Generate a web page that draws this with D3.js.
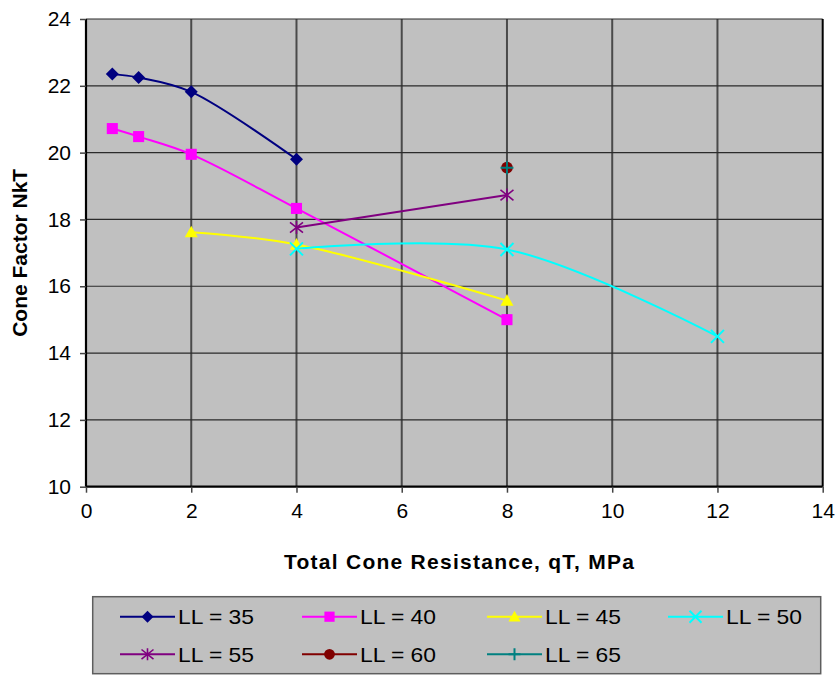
<!DOCTYPE html>
<html>
<head>
<meta charset="utf-8">
<script src="https://cdn.jsdelivr.net/npm/d3@7"></script>
<style>
  html, body { margin: 0; padding: 0; background: #ffffff; }
  svg { display: block; font-family: "Liberation Sans", Arial, sans-serif; }
</style>
</head>
<body>
<svg id="chart" width="836" height="675"></svg>
<script>
// Cone factor NkT versus total cone resistance qT, one series per liquid limit
const seriesNames = ["LL = 35", "LL = 40", "LL = 45", "LL = 50", "LL = 55", "LL = 60", "LL = 65"];
const ll35 = [[0.5, 22.35], [1, 22.25], [2, 21.82], [4, 19.8]];
const ll40 = [[0.5, 20.72], [1, 20.48], [2, 19.95], [4, 18.33], [8, 15.0]];
const ll45 = [[2, 17.62], [4, 17.25], [8, 15.57]];
const ll50 = [[4, 17.12], [8, 17.1], [12, 14.5]];
const ll55 = [[4, 17.76], [8, 18.73]];
const ll60 = [[8, 19.55]];
const ll65 = [[8, 19.55]];
const seriesValues = [ll35, ll40, ll45, ll50, ll55, ll60, ll65];
const seriesColors = ["#000080", "#ff00ff", "#ffff00", "#00ffff", "#800080", "#800000", "#008080"];
const seriesMarkers = ["diamond", "square", "triangle", "cross", "star", "circle", "plus"];

const xTicks = [0, 2, 4, 6, 8, 10, 12, 14];
const yTicks = [10, 12, 14, 16, 18, 20, 22, 24];
const xTitle = "Total Cone Resistance, qT, MPa";
const yTitle = "Cone Factor NkT";

const svg = d3.select("#chart");
const plot = { left: 86, right: 822.7, top: 19, bottom: 486.7 };

const x = d3.scaleLinear().domain([0, 14]).range([plot.left, plot.right]);
const y = d3.scaleLinear().domain([10, 24]).range([plot.bottom, plot.top]);

// plot background
svg.append("rect")
  .attr("x", plot.left).attr("y", plot.top)
  .attr("width", plot.right - plot.left).attr("height", plot.bottom - plot.top)
  .attr("fill", "#c0c0c0");

// gridlines
svg.append("g").selectAll("line").data(xTicks.slice(1, -1)).join("line")
  .attr("x1", d => x(d)).attr("x2", d => x(d))
  .attr("y1", plot.top).attr("y2", plot.bottom)
  .attr("stroke", "#4a4a4a").attr("stroke-width", 2);
svg.append("g").selectAll("line").data(yTicks.slice(1)).join("line")
  .attr("x1", plot.left).attr("x2", plot.right)
  .attr("y1", d => y(d)).attr("y2", d => y(d))
  .attr("stroke", "#2a2a2a").attr("stroke-width", 1.2);

// right border
svg.append("line")
  .attr("x1", plot.right).attr("x2", plot.right)
  .attr("y1", plot.top).attr("y2", plot.bottom)
  .attr("stroke", "#000").attr("stroke-width", 2);

// axes
const xAxis = d3.axisBottom(x).tickValues(xTicks).tickSize(6).tickPadding(10).tickFormat(d3.format("d"));
const yAxis = d3.axisLeft(y).tickValues(yTicks).tickSize(6).tickPadding(9).tickFormat(d3.format("d"));

const gx = svg.append("g").attr("transform", `translate(0,${plot.bottom})`).call(xAxis);
const gy = svg.append("g").attr("transform", `translate(${plot.left},0)`).call(yAxis);
[gx, gy].forEach(g => {
  g.select(".domain").attr("stroke", "#000").attr("stroke-width", 2.2);
  g.selectAll(".tick line").attr("stroke", "#444").attr("stroke-width", 1.5);
  g.selectAll(".tick text")
    .attr("fill", "#000")
    .style("font-family", "'Liberation Sans', Arial, sans-serif")
    .style("font-size", "21px");
});
gx.select(".domain").attr("d", `M${plot.left},0H${plot.right}`);
gy.select(".domain").attr("d", `M0,${plot.bottom}V${plot.top}`);

// axis titles
svg.append("text")
  .attr("x", 459).attr("y", 569)
  .attr("text-anchor", "middle")
  .attr("font-size", 21).attr("font-weight", "bold")
  .attr("textLength", 350).attr("lengthAdjust", "spacing")
  .text(xTitle);
svg.append("text")
  .attr("transform", `translate(27,${(plot.top + plot.bottom) / 2}) rotate(-90)`)
  .attr("text-anchor", "middle")
  .attr("font-size", 21).attr("font-weight", "bold")
  .text(yTitle);

// marker drawing
function drawMarker(g, type, color, s) {
  switch (type) {
    case "diamond":
      g.append("path").attr("d", `M0,${-s}L${s},0L0,${s}L${-s},0Z`).attr("fill", color);
      break;
    case "square":
      g.append("rect").attr("x", -s * 0.85).attr("y", -s * 0.85)
        .attr("width", s * 1.7).attr("height", s * 1.7).attr("fill", color);
      break;
    case "triangle":
      g.append("path").attr("d", `M0,${-s}L${s},${s * 0.8}L${-s},${s * 0.8}Z`).attr("fill", color);
      break;
    case "cross":
      g.append("path").attr("d", `M${-s},${-s}L${s},${s}M${-s},${s}L${s},${-s}`)
        .attr("stroke", color).attr("stroke-width", 2).attr("fill", "none");
      break;
    case "star":
      g.append("path").attr("d", `M${-s},${-s * 0.8}L${s},${s * 0.8}M${-s},${s * 0.8}L${s},${-s * 0.8}M0,${-s}V${s}`)
        .attr("stroke", color).attr("stroke-width", 1.6).attr("fill", "none");
      break;
    case "circle":
      g.append("circle").attr("r", s * 0.9).attr("fill", color);
      break;
    case "plus":
      g.append("path").attr("d", `M${-s},0H${s}M0,${-s}V${s}`)
        .attr("stroke", color).attr("stroke-width", 2).attr("fill", "none");
      break;
  }
}

// series lines (smoothed) and markers
const line = d3.line()
  .x(d => x(d[0])).y(d => y(d[1]))
  .curve(d3.curveCatmullRom.alpha(0.5));

seriesValues.forEach((vals, i) => {
  const g = svg.append("g");
  if (vals.length > 1) {
    g.append("path").datum(vals)
      .attr("d", line)
      .attr("fill", "none")
      .attr("stroke", seriesColors[i])
      .attr("stroke-width", 2);
  }
  vals.forEach(v => {
    const m = g.append("g").attr("transform", `translate(${x(v[0])},${y(v[1])})`);
    drawMarker(m, seriesMarkers[i], seriesColors[i], 6.5);
  });
});

// legend
const legend = svg.append("g");
legend.append("rect")
  .attr("x", 92.7).attr("y", 596.7)
  .attr("width", 728).attr("height", 77)
  .attr("fill", "#c0c0c0")
  .attr("stroke", "#5e5e5e").attr("stroke-width", 1.5);

const colStart = [120, 302, 487, 668];
const rowY = [616.7, 654.3];
seriesNames.forEach((name, i) => {
  const cx = colStart[i % 4];
  const cy = rowY[Math.floor(i / 4)];
  const item = legend.append("g").attr("transform", `translate(${cx},${cy})`);
  item.append("line").attr("x1", 0).attr("x2", 55).attr("y1", 0).attr("y2", 0)
    .attr("stroke", seriesColors[i]).attr("stroke-width", 2);
  const m = item.append("g").attr("transform", "translate(27.5,0)");
  drawMarker(m, seriesMarkers[i], seriesColors[i], 6);
  item.append("text")
    .attr("x", 58).attr("y", 0).attr("dy", "0.36em")
    .attr("font-size", 21)
    .attr("textLength", 76).attr("lengthAdjust", "spacingAndGlyphs")
    .attr("fill", "#000")
    .text(name);
});
</script>
</body>
</html>
